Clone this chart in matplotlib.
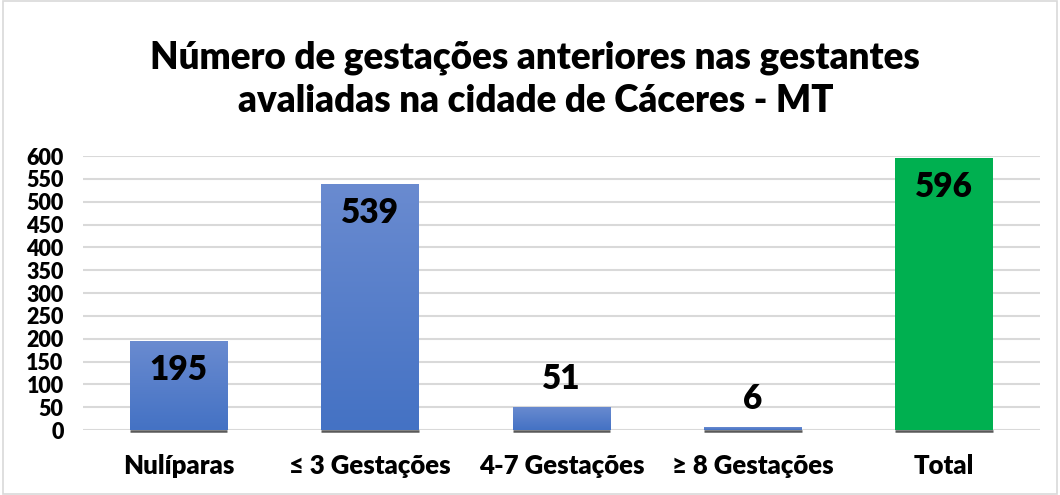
import numpy as np
import matplotlib.pyplot as plt
from matplotlib.colors import LinearSegmentedColormap
from matplotlib.patches import Rectangle

categorias = ['Nulíparas', '≤ 3 Gestações', '4-7 Gestações', '≥ 8 Gestações', 'Total']
valores = [195, 539, 51, 6, 596]
y_ticks = list(range(0, 601, 50))

plt.rcParams['font.family'] = ['Lato', 'DejaVu Sans']
PESO = 'heavy'

fig = plt.figure(figsize=(10.6, 4.95), dpi=100)
ax = fig.add_axes([0.0783, 0.1313, 0.9027, 0.5535])

# borda da figura
fig.patches.append(Rectangle((0.003, 0.003), 0.994, 0.994, transform=fig.transFigure,
                             fill=False, edgecolor='#d9d9d9', linewidth=1.2))

x = np.arange(len(categorias))
cores = ['#4472c4'] * 4 + ['#00b050']
bars = ax.bar(x, valores, width=0.51, color=cores, zorder=2)

# degradê nas barras azuis
cmap = LinearSegmentedColormap.from_list('azul', ['#4472c4', '#6a8bd0'])
grad = np.linspace(0, 1, 256).reshape(-1, 1)
for b, c in zip(bars, cores):
    bx, bw, bh = b.get_x(), b.get_width(), b.get_height()
    if c == '#4472c4':
        im = ax.imshow(grad, cmap=cmap, origin='lower', aspect='auto',
                       extent=(bx, bx + bw, 0, bh), zorder=3)
        im.set_clip_path(b)
    # sombra na base
    ax.plot([bx, bx + bw], [-2.5, -2.5], color='#595959', lw=1.8, zorder=4,
            solid_capstyle='butt', clip_on=False)

# rótulos de dados
for b, v in zip(bars, valores):
    cx = b.get_x() + b.get_width() / 2
    dy = -21 if v > 100 else 20
    ax.annotate(str(v), (cx, v), xytext=(0, dy), textcoords='offset points',
                ha='center', va='center', fontsize=24, fontweight=PESO, zorder=5)

ax.set_xlim(-0.5, len(categorias) - 0.5)
ax.set_ylim(0, 600)
ax.set_yticks(y_ticks)
ax.set_yticklabels([str(t) for t in y_ticks], fontsize=15.5, fontweight=PESO)
ax.set_xticks(x)
ax.set_xticklabels(categorias, fontsize=18.5, fontweight=PESO)
ax.tick_params(axis='y', length=0, pad=14)
ax.tick_params(axis='x', length=0, pad=17)
ax.grid(axis='y', color='#d9d9d9', linewidth=1.5, zorder=0)
ax.set_axisbelow(True)
for s in ax.spines.values():
    s.set_visible(False)

fig.text(0.505, 0.84, 'Número de gestações anteriores nas gestantes\navaliadas na cidade de Cáceres - MT',
         ha='center', va='center', fontsize=26.5, fontweight=PESO, linespacing=1.32)

fig.savefig('out.png', dpi=100)
